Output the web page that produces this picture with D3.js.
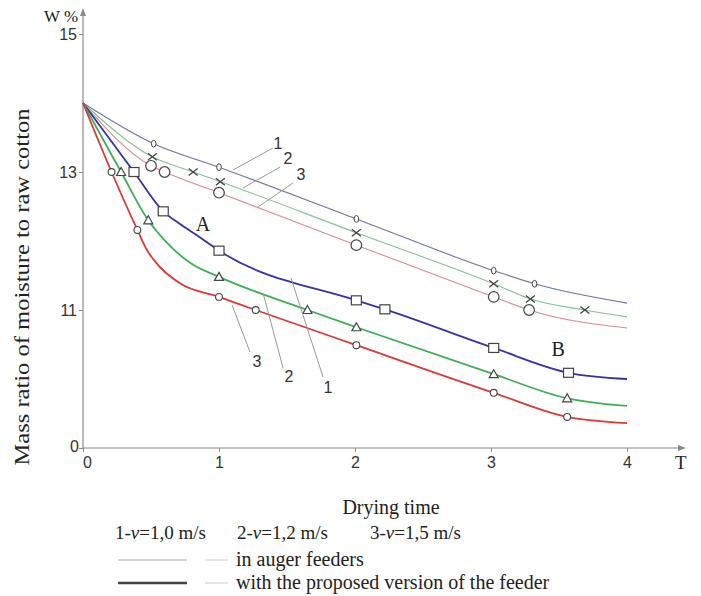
<!DOCTYPE html>
<html><head><meta charset="utf-8">
<script src="https://cdn.jsdelivr.net/npm/d3@7"></script>
<style>body{margin:0;background:#fff}</style>
</head><body>
<svg id="c" width="701" height="596"></svg>
<script>
// ---- data ----
const xTicks = [0, 1, 2, 3, 4];
const xTickLabels = ["0", "1", "2", "3", "4"];
const yTicks = [9, 11, 13, 15];
const yTickLabels = ["0", "11", "13", "15"];

// auger feeders (thin lines) : [time, W%]
const auger1Marks = [[0.52,13.41],[1.0,13.07],[2.01,12.32],[3.02,11.57],[3.32,11.38]];
const auger1Trace = [[0,14],[4.0,11.10]];
const auger2Marks = [[0.51,13.22],[0.81,13.0],[1.01,12.86],[2.01,12.12],[3.02,11.38],[3.29,11.16],[3.69,11.0]];
const auger2Trace = [[0,14],[4.0,10.90]];
const auger3Marks = [[0.5,13.09],[0.6,13.0],[1.0,12.70],[2.01,11.94],[3.02,11.19],[3.28,11.0]];
const auger3Trace = [[0,14],[4.0,10.74]];

// proposed feeder (thick lines)
const prop1Marks = [[0.375,13.0],[0.59,12.43],[1.0,11.86],[2.01,11.14],[2.22,11.01],[3.02,10.45],[3.57,10.09]];
const prop1Trace = [[0,14],[0.71,12.25],[0.84,12.08],[4.0,10.0]];
const prop2Marks = [[0.28,13.0],[0.48,12.30],[1.0,11.48],[1.65,11.0],[2.01,10.75],[3.02,10.07],[3.56,9.72]];
const prop2Trace = [[0,14],[0.62,11.97],[0.79,11.68],[4.0,9.61]];
const prop3Marks = [[0.21,13.0],[0.40,12.16],[1.0,11.19],[1.27,11.0],[2.01,10.49],[3.02,9.80],[3.56,9.45]];
const prop3Trace = [[0,14],[0.47,11.87],[0.54,11.68],[0.71,11.39],[4.0,9.36]];

// annotations (data coords)
const upperLeaders = [
  {label:"1", from:[1.397,13.348], to:[1.103,13.029], at:[1.434,13.42]},
  {label:"2", from:[1.449,13.072], to:[1.176,12.768], at:[1.507,13.19]},
  {label:"3", from:[1.544,12.84], to:[1.287,12.493], at:[1.603,12.957]}
];
const lowerLeaders = [
  {label:"1", from:[1.529,11.464], to:[1.765,10.029], at:[1.801,9.87]},
  {label:"2", from:[1.324,11.246], to:[1.471,10.159], at:[1.515,10.043]},
  {label:"3", from:[1.096,11.072], to:[1.228,10.391], at:[1.279,10.26]}
];
const regionLabels = [{label:"A", at:[0.882,12.246]}, {label:"B", at:[3.493,10.435]}];

// ---- drawing ----
const svg = d3.select("#c");
const x = d3.scaleLinear([0, 4], [83, 627]);
const y = d3.scaleLinear([9, 15], [448, 34]);
const SERIF = "Liberation Serif, Times New Roman, serif";
const SANS = "Liberation Sans, Arial, sans-serif";
const axisCol = "#8a8a8a";

function txt(sel, family, size){ return sel.style("font-family", family).style("font-size", size+"px").attr("fill","#222"); }

// axes
const gy = svg.append("g").attr("transform", `translate(${x(0)},0)`)
  .call(d3.axisLeft(y).tickValues(yTicks).tickFormat((d,i)=>yTickLabels[i]).tickSizeInner(4).tickSizeOuter(0).tickPadding(2));
gy.select(".domain").remove();
gy.selectAll("line").attr("stroke", axisCol);
txt(gy.selectAll("text"), SANS, 16).attr("fill","#333");
gy.selectAll(".tick").filter(d=>d===9).select("text").attr("dy","0.2em").attr("x",-4);

const gx = svg.append("g").attr("transform", `translate(0,${y(9)})`)
  .call(d3.axisBottom(x).tickValues(xTicks).tickFormat((d,i)=>xTickLabels[i]).tickSizeInner(4).tickSizeOuter(0).tickPadding(5));
gx.select(".domain").remove();
gx.selectAll("line").attr("stroke", axisCol);
txt(gx.selectAll("text"), SANS, 16).attr("fill","#333");
gx.selectAll(".tick").filter(d=>d===0).select("text").attr("x", 4);

// axis lines with arrows
const x0 = x(0), yb = y(9);
svg.append("line").attr("x1", x0).attr("y1", yb).attr("x2", x0).attr("y2", 14).attr("stroke", axisCol).attr("stroke-width", 1.2);
svg.append("path").attr("d", `M${x0},8 L${x0-3},16 L${x0+3},16 Z`).attr("fill", axisCol);
svg.append("line").attr("x1", x0).attr("y1", yb).attr("x2", 680).attr("y2", yb).attr("stroke", axisCol).attr("stroke-width", 1.2);
svg.append("path").attr("d", `M686,${yb} L678,${yb-3} L678,${yb+3} Z`).attr("fill", axisCol);

txt(svg.append("text").attr("x", 44).attr("y", 22), SERIF, 17).text("W %");
txt(svg.append("text").attr("x", 675).attr("y", 469), SERIF, 19).text("T");

// lines
const line = d3.line().x(d=>x(d[0])).y(d=>y(d[1])).curve(d3.curveMonotoneX);
const merge = (a,b)=>a.concat(b).sort((p,q)=>p[0]-q[0]);
const series = [
  {marks:auger1Marks, trace:auger1Trace, color:"#7272aa", w:1.1, shape:"diamond"},
  {marks:auger2Marks, trace:auger2Trace, color:"#86c48a", w:1.1, shape:"cross"},
  {marks:auger3Marks, trace:auger3Trace, color:"#d88c8c", w:1.1, shape:"bigcircle"},
  {marks:prop1Marks, trace:prop1Trace, color:"#3434a4", w:1.8, shape:"square"},
  {marks:prop2Marks, trace:prop2Trace, color:"#3fae56", w:1.8, shape:"triangle"},
  {marks:prop3Marks, trace:prop3Trace, color:"#d93a3a", w:1.8, shape:"smallcircle"}
];
series.forEach(s=>{
  svg.append("path").attr("d", line(merge(s.marks, s.trace)))
    .attr("fill","none").attr("stroke", s.color).attr("stroke-width", s.w);
});

// markers
const mk = "#444";
series.forEach(s=>{
  const g = svg.append("g");
  s.marks.forEach(d=>{
    const cx = x(d[0]), cy = y(d[1]);
    if (s.shape==="diamond") {
      g.append("ellipse").attr("cx",cx).attr("cy",cy).attr("rx",2.3).attr("ry",3.4).attr("fill","#fff").attr("stroke",mk).attr("stroke-width",1);
    } else if (s.shape==="cross") {
      g.append("path").attr("d",`M${cx-4.5},${cy-3.5}L${cx+4.5},${cy+3.5}M${cx-4.5},${cy+3.5}L${cx+4.5},${cy-3.5}`).attr("stroke",mk).attr("stroke-width",1.3);
    } else if (s.shape==="bigcircle") {
      g.append("circle").attr("cx",cx).attr("cy",cy).attr("r",5.3).attr("fill","#fff").attr("stroke",mk).attr("stroke-width",1.2);
    } else if (s.shape==="square") {
      g.append("rect").attr("x",cx-5).attr("y",cy-4.5).attr("width",10).attr("height",9).attr("fill","#fff").attr("stroke",mk).attr("stroke-width",1.2);
    } else if (s.shape==="triangle") {
      g.append("path").attr("d",`M${cx},${cy-4.5}L${cx+4.5},${cy+3.5}L${cx-4.5},${cy+3.5}Z`).attr("fill","#fff").attr("stroke",mk).attr("stroke-width",1.2);
    } else {
      g.append("circle").attr("cx",cx).attr("cy",cy).attr("r",3.4).attr("fill","#fff").attr("stroke",mk).attr("stroke-width",1.1);
    }
  });
});

// leader lines
upperLeaders.concat(lowerLeaders).forEach(a=>{
  svg.append("line").attr("x1",x(a.from[0])).attr("y1",y(a.from[1])).attr("x2",x(a.to[0])).attr("y2",y(a.to[1]))
    .attr("stroke","#999").attr("stroke-width",1);
  txt(svg.append("text").attr("x",x(a.at[0])).attr("y",y(a.at[1])).attr("text-anchor","middle").attr("dominant-baseline","central"), SANS, 16)
    .attr("fill","#333").text(a.label);
});
regionLabels.forEach(a=>{
  txt(svg.append("text").attr("x",x(a.at[0])).attr("y",y(a.at[1])).attr("text-anchor","middle").attr("dominant-baseline","central"), SERIF, 20).text(a.label);
});

// y title
txt(svg.append("text").attr("transform","translate(29,287) rotate(-90)").attr("text-anchor","middle")
  .attr("textLength",357).attr("lengthAdjust","spacingAndGlyphs"), SERIF, 22).text("Mass ratio of moisture to raw cotton");

// x title + legend
txt(svg.append("text").attr("x",391).attr("y",514).attr("text-anchor","middle"), SERIF, 20).text("Drying time");
const speeds = [{n:"1",v:"1,0",x:115},{n:"2",v:"1,2",x:237},{n:"3",v:"1,5",x:370}];
speeds.forEach(s=>{
  const t = txt(svg.append("text").attr("x",s.x).attr("y",539), SERIF, 19);
  t.append("tspan").text(s.n+"-");
  t.append("tspan").style("font-style","italic").text("ν");
  t.append("tspan").text("="+s.v+" m/s");
});
svg.append("line").attr("x1",118).attr("x2",187).attr("y1",560).attr("y2",560).attr("stroke","#aaa").attr("stroke-width",1);
svg.append("line").attr("x1",205).attr("x2",228).attr("y1",560).attr("y2",560).attr("stroke","#ccc").attr("stroke-width",1);
txt(svg.append("text").attr("x",236).attr("y",566), SERIF, 20).text("in auger feeders");
svg.append("line").attr("x1",118).attr("x2",187).attr("y1",583).attr("y2",583).attr("stroke","#444").attr("stroke-width",2.6);
svg.append("line").attr("x1",205).attr("x2",228).attr("y1",583).attr("y2",583).attr("stroke","#ccc").attr("stroke-width",1);
txt(svg.append("text").attr("x",236).attr("y",589), SERIF, 20).text("with the proposed version of the feeder");
</script>
</body></html>
